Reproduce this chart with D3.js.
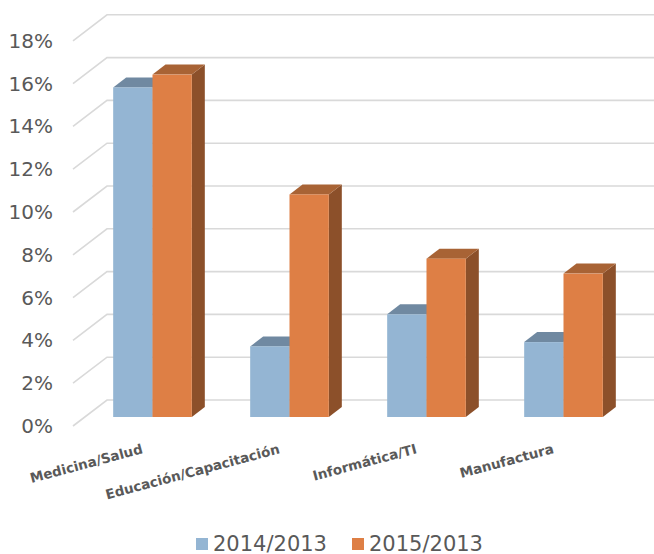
<!DOCTYPE html>
<html>
<head>
<meta charset="utf-8">
<script src="https://cdn.jsdelivr.net/npm/d3@7"></script>
<style>
  html, body { margin: 0; padding: 0; background: #fff; }
  svg { display: block; }
</style>
</head>
<body>
<svg id="chart" width="654" height="554"></svg>
<script>
const categories = ["Medicina/Salud", "Educación/Capacitación", "Informática/TI", "Manufactura"];
const series = ["2014/2013", "2015/2013"];
const values2014 = [15.4, 3.3, 4.8, 3.5];
const values2015 = [16.0, 10.4, 7.4, 6.7];
const yTicks = [0, 2, 4, 6, 8, 10, 12, 14, 16, 18];
const yTickLabels = yTicks.map(d => d + "%");
const seriesColors = {
  "2014/2013": { front: "#94B5D3", top: "#7089A1", side: "#6E8AA3" },
  "2015/2013": { front: "#DE7F45", top: "#A86335", side: "#8C502A" }
};

const svg = d3.select("#chart");
const font = "'DejaVu Sans', sans-serif";
const textColor = "#595959";

const x = d3.scaleBand(categories, [84, 632]).paddingInner(0.426).paddingOuter(0.213);
const xs = d3.scaleBand(series, [0, x.bandwidth()]).padding(0);
const y = d3.scaleLinear([0, 18], [417, 417 - 18 * 21.4]);

// wall depth offsets
const wallFront = { x: 73, dy: 9 };
const wallBack = { x: 107, dy: -17 };
const barDepth = { dx: 13, dy: -10 };

// gridlines
const grid = svg.append("g");
grid.selectAll("path").data(yTicks).join("path")
  .attr("d", v => `M${wallFront.x},${y(v) + wallFront.dy}L${wallBack.x},${y(v) + wallBack.dy}L654,${y(v) + wallBack.dy}`)
  .attr("fill", "none")
  .attr("stroke", "#D9D9D9")
  .attr("stroke-width", 1.6);

// y axis labels
const yAxis = d3.axisLeft(y).tickValues(yTicks).tickFormat((d, i) => yTickLabels[i]).tickSize(0).tickPadding(0);
const gy = svg.append("g").attr("transform", `translate(53,${wallFront.dy})`).call(yAxis);
gy.select(".domain").remove();
gy.selectAll("text").attr("font-family", font).attr("font-size", 20).attr("fill", textColor);

// bars
const data = [];
categories.forEach((c, i) => {
  data.push({ cat: c, ser: series[0], v: values2014[i] });
  data.push({ cat: c, ser: series[1], v: values2015[i] });
});

const bars = svg.append("g");
data.forEach(d => {
  const x0 = x(d.cat) + xs(d.ser);
  const x1 = x0 + xs.bandwidth();
  const yt = y(d.v), yb = y(0);
  const col = seriesColors[d.ser];
  const g = bars.append("g");
  g.append("path")
    .attr("d", `M${x1},${yb}L${x1 + barDepth.dx},${yb + barDepth.dy}L${x1 + barDepth.dx},${yt + barDepth.dy}L${x1},${yt}Z`)
    .attr("fill", col.side);
  g.append("path")
    .attr("d", `M${x0},${yt}L${x0 + barDepth.dx},${yt + barDepth.dy}L${x1 + barDepth.dx},${yt + barDepth.dy}L${x1},${yt}Z`)
    .attr("fill", col.top);
  g.append("rect")
    .attr("x", x0).attr("y", yt).attr("width", x1 - x0).attr("height", yb - yt)
    .attr("fill", col.front);
});

// category labels
svg.append("g").selectAll("text").data(categories).join("text")
  .attr("transform", c => `translate(${x(c) + x.bandwidth() / 2 - 9},453) rotate(-15)`)
  .attr("text-anchor", "end")
  .attr("font-family", font)
  .attr("font-weight", "bold")
  .attr("font-size", 13.5)
  .attr("fill", textColor)
  .text(c => c);

// legend
const legendX = [196, 352];
const lg = svg.append("g");
series.forEach((s, i) => {
  lg.append("rect").attr("x", legendX[i]).attr("y", 538).attr("width", 12).attr("height", 12)
    .attr("fill", seriesColors[s].front);
  lg.append("text").attr("x", legendX[i] + 17).attr("y", 550.5)
    .attr("font-family", font).attr("font-size", 21).attr("fill", textColor)
    .text(s);
});
</script>
</body>
</html>
